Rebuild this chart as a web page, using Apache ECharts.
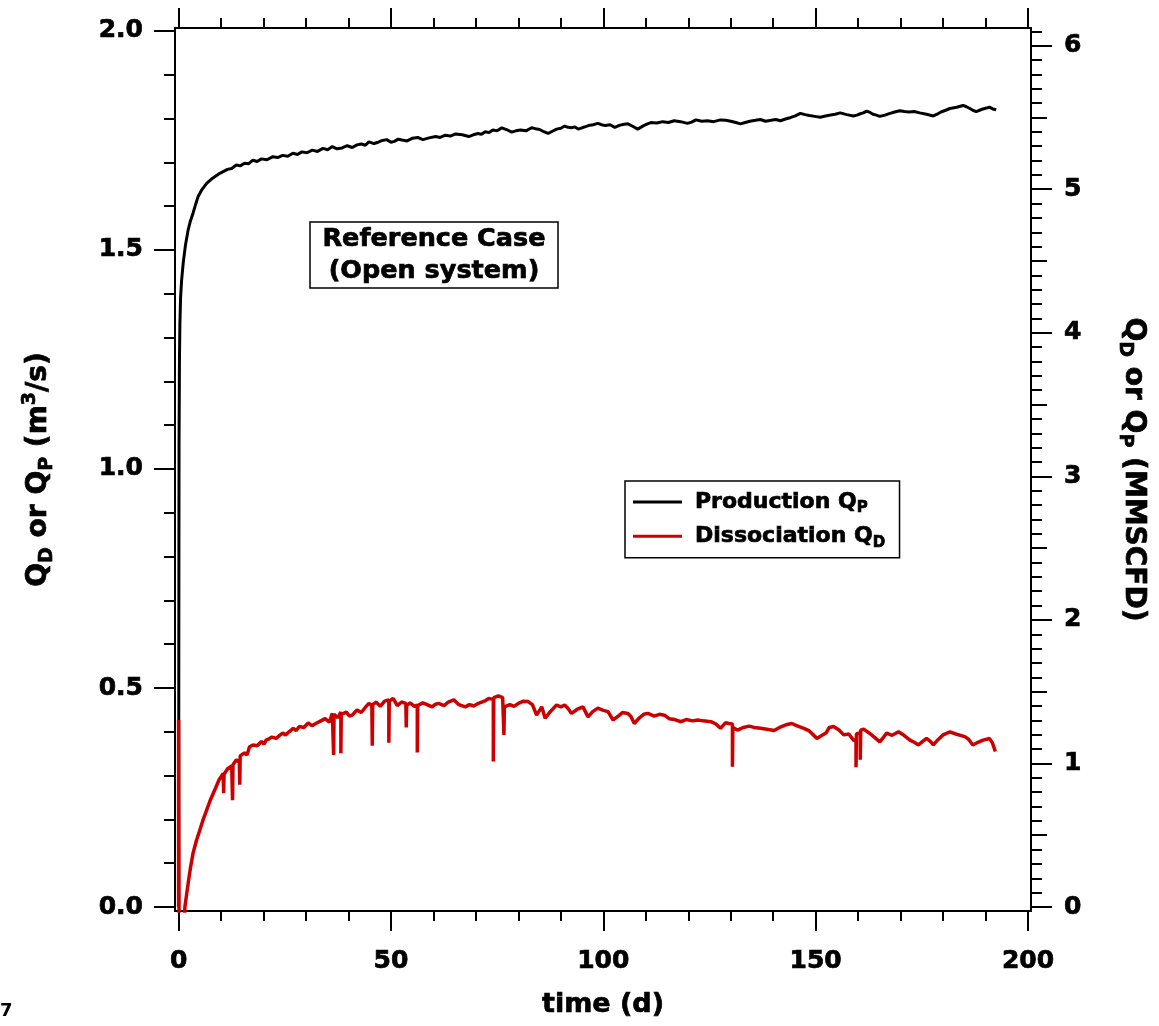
<!DOCTYPE html>
<html>
<head>
<meta charset="utf-8">
<script src="https://cdn.jsdelivr.net/npm/echarts@6/dist/echarts.min.js"></script>
<style>
  html, body { margin: 0; padding: 0; background: #fff; }
  #chart { width: 1159px; height: 1026px; }
</style>
</head>
<body>
<div id="chart"></div>
<script>
// m3/s -> MMSCFD
const CONV = 3.0512

// tick labels
const timeLabels = [0, 50, 100, 150, 200]
const leftLabels = [0, 0.5, 1.0, 1.5, 2.0]
const rightLabels = [0, 1, 2, 3, 4, 5, 6]

// Production Q_P  [time (d), m3/s]
const productionQP = [
  [0, 0], [0.05, 0.6], [0.1, 1.05], [0.2, 1.25], [0.3, 1.33], [0.47, 1.393], [0.7, 1.43], [1.08, 1.47],
  [1.6, 1.51], [2.25, 1.546], [2.8, 1.567], [3.4, 1.584], [4.0, 1.604], [4.6, 1.622], [5.5, 1.638],
  [6.6, 1.652], [8, 1.664], [9.7, 1.675], [10.5, 1.679], [11.5, 1.684], [12.5, 1.686], [13.6, 1.694],
  [14.5, 1.692], [15.5, 1.698], [16.5, 1.697], [17.5, 1.705], [18.5, 1.702], [19.5, 1.708], [20.8, 1.706],
  [22.2, 1.713], [23.3, 1.711], [24.5, 1.716], [25.7, 1.714], [26.9, 1.721], [28, 1.718], [29, 1.724],
  [30.2, 1.722], [31.5, 1.728], [32.7, 1.725], [34, 1.732], [35.1, 1.729], [36.2, 1.736], [37.3, 1.731],
  [38.5, 1.733], [39.7, 1.738], [40.9, 1.734], [42, 1.740], [43, 1.742], [44, 1.739], [44.8, 1.747],
  [46, 1.743], [47, 1.746], [48, 1.750], [49, 1.752], [50, 1.746], [50.8, 1.748], [51.7, 1.753],
  [52.6, 1.751], [53.8, 1.749], [55, 1.755], [56.3, 1.757], [57.5, 1.752], [59, 1.756], [60.5, 1.759],
  [61.6, 1.757], [62.8, 1.762], [64, 1.760], [65.2, 1.765], [66.8, 1.763], [68.3, 1.759], [69.4, 1.763],
  [70.5, 1.766], [71.3, 1.764], [72.2, 1.770], [73.1, 1.768], [74, 1.774], [75, 1.772], [76.1, 1.779],
  [77.2, 1.775], [78.4, 1.769], [79.4, 1.772], [80.5, 1.774], [81.8, 1.772], [83.1, 1.779], [84, 1.777],
  [85, 1.775], [86, 1.770], [87.0, 1.766], [88, 1.771], [89, 1.776], [90, 1.778], [90.9, 1.783],
  [91.7, 1.780], [92.5, 1.779], [93.3, 1.781], [94.1, 1.776], [95.3, 1.780], [96.5, 1.784], [97.6, 1.786],
  [98.7, 1.789], [99.6, 1.786], [100.5, 1.784], [101.6, 1.786], [102.7, 1.780], [103.4, 1.783], [104, 1.785],
  [104.9, 1.787], [105.8, 1.788], [107, 1.782], [108.1, 1.776], [108.8, 1.780], [109.5, 1.784], [110.4, 1.788],
  [111.2, 1.791], [112.6, 1.790], [114, 1.793], [115.3, 1.791], [116.7, 1.795], [118.2, 1.793], [119.8, 1.789],
  [120.8, 1.792], [121.8, 1.797], [123.2, 1.794], [124.5, 1.795], [126, 1.793], [127.6, 1.797], [128.8, 1.796],
  [130, 1.794], [131.2, 1.791], [132.3, 1.788], [133.4, 1.791], [134.5, 1.794], [135.8, 1.796], [137.0, 1.798],
  [138.2, 1.794], [139.5, 1.796], [140.6, 1.798], [141.7, 1.795], [142.9, 1.799], [144, 1.802], [145.2, 1.806],
  [146.4, 1.812], [147.5, 1.809], [148.5, 1.807], [149.8, 1.805], [151.1, 1.803], [152.3, 1.806], [153.5, 1.808],
  [154.6, 1.810], [155.8, 1.813], [157.3, 1.809], [158.9, 1.806], [159.7, 1.808], [160.5, 1.811], [161.2, 1.813],
  [162.0, 1.817], [162.8, 1.814], [163.5, 1.810], [164.3, 1.808], [165.1, 1.805], [166.3, 1.808], [167.5, 1.812],
  [168.6, 1.815], [169.8, 1.818], [170.9, 1.816], [172, 1.815], [173.2, 1.816], [174.5, 1.813], [176.1, 1.810],
  [177.7, 1.806], [178.6, 1.810], [179.5, 1.815], [180.6, 1.819], [181.6, 1.823], [183.2, 1.826], [184.7, 1.830],
  [185.5, 1.827], [186.3, 1.823], [187, 1.819], [187.8, 1.816], [188.6, 1.819], [189.4, 1.822], [190.2, 1.824],
  [190.9, 1.826], [191.7, 1.822], [192.5, 1.820]
]

// Dissociation Q_D  [time (d), m3/s]  (downward spikes included)
const dissociationQD = [
  [0, 0], [0, 0.427], [0.05, 0.427], [0.1, -0.05], [1.3, -0.05], [1.48, 0], [1.9, 0.03], [2.25, 0.054],
  [2.8, 0.09], [3.4, 0.123], [4.2, 0.152], [5.0, 0.176], [5.8, 0.2], [6.6, 0.221], [7.5, 0.245], [8.5, 0.267],
  [9.5, 0.29], [10.5, 0.305], [10.6, 0.26], [10.7, 0.303], [11.5, 0.315], [12.5, 0.322], [12.7, 0.244],
  [12.8, 0.325], [13.6, 0.336], [14.3, 0.33], [14.4, 0.279], [14.5, 0.345], [15.5, 0.352], [16.1, 0.347],
  [16.7, 0.366], [17.5, 0.37], [18.5, 0.368], [19.5, 0.378], [20.1, 0.372], [20.6, 0.381], [21.3, 0.384],
  [22, 0.388], [23, 0.385], [23.8, 0.392], [24.5, 0.397], [25.2, 0.393], [26, 0.4], [27, 0.408],
  [27.7, 0.403], [28.4, 0.412], [29.5, 0.41], [30.5, 0.42], [31.4, 0.414], [32.3, 0.419], [33.5, 0.425],
  [34.5, 0.43], [35.5, 0.422], [36.2, 0.442], [36.5, 0.442], [36.5, 0.347], [36.6, 0.44], [37.5, 0.432],
  [38.2, 0.445], [38.2, 0.351], [38.3, 0.44], [39.5, 0.445], [40.2, 0.436], [40.9, 0.438], [42, 0.45],
  [43, 0.444], [43.9, 0.455], [44.8, 0.465], [45.5, 0.46], [45.6, 0.368], [45.7, 0.462], [46.5, 0.468],
  [47.5, 0.458], [48.5, 0.47], [49.5, 0.473], [49.5, 0.375], [49.6, 0.47], [50.5, 0.476], [51.5, 0.46],
  [52.5, 0.468], [53.5, 0.465], [53.6, 0.41], [53.7, 0.46], [54.5, 0.466], [55.5, 0.458], [56.2, 0.461],
  [56.2, 0.353], [56.3, 0.46], [57.5, 0.466], [58.5, 0.462], [59.7, 0.457], [60.5, 0.463], [61.2, 0.465],
  [62.5, 0.46], [63.5, 0.468], [64.8, 0.473], [66, 0.462], [67.5, 0.457], [68.5, 0.462], [69.5, 0.459],
  [70.6, 0.465], [72, 0.47], [73, 0.476], [74.1, 0.474], [74.1, 0.332], [74.2, 0.478], [75.3, 0.482],
  [76.3, 0.478], [76.6, 0.393], [76.7, 0.457], [78, 0.462], [79, 0.458], [80, 0.465], [81.2, 0.47],
  [82.3, 0.469], [83.3, 0.462], [84.3, 0.438], [85.5, 0.457], [86.3, 0.431], [87.5, 0.446], [89, 0.461],
  [90, 0.457], [90.9, 0.461], [91.8, 0.452], [92.5, 0.442], [93.8, 0.451], [95.2, 0.457], [96.4, 0.434],
  [97.5, 0.446], [98.7, 0.454], [100, 0.449], [101.1, 0.446], [102.3, 0.427], [103.5, 0.436], [104.5, 0.444],
  [105.8, 0.442], [106.5, 0.435], [107.3, 0.419], [108.5, 0.432], [109.5, 0.44], [110.5, 0.442], [112, 0.436],
  [113.2, 0.44], [114.4, 0.438], [115.5, 0.43], [116.8, 0.428], [118.3, 0.423], [119.5, 0.428], [121, 0.425],
  [122.2, 0.427], [123.5, 0.425], [125.3, 0.423], [126.5, 0.418], [127.6, 0.408], [128.8, 0.421], [129.5, 0.419],
  [130.4, 0.418], [130.4, 0.32], [130.5, 0.41], [131.6, 0.404], [133, 0.41], [134.3, 0.413], [135.5, 0.41],
  [137, 0.408], [138.5, 0.406], [140.2, 0.403], [141.5, 0.41], [143, 0.416], [144.4, 0.419], [145.5, 0.414],
  [147.2, 0.408], [148.5, 0.402], [150.3, 0.385], [151.5, 0.392], [152.5, 0.398], [153.2, 0.41], [154.2, 0.412],
  [155.5, 0.404], [156.6, 0.393], [157.8, 0.395], [158.9, 0.381], [159.5, 0.381], [159.5, 0.319], [159.6, 0.395],
  [160.5, 0.398], [160.5, 0.336], [160.6, 0.404], [161.3, 0.406], [162.5, 0.398], [163.8, 0.388], [165.1, 0.377],
  [166, 0.388], [166.7, 0.397], [168, 0.392], [169.5, 0.4], [170.8, 0.392], [172.2, 0.381], [173.2, 0.376],
  [174.2, 0.37], [175.2, 0.378], [176.1, 0.385], [177, 0.378], [177.7, 0.37], [178.8, 0.382], [180, 0.393],
  [181.6, 0.4], [183, 0.395], [185.1, 0.389], [186, 0.383], [187, 0.37], [188.2, 0.376], [189.4, 0.381],
  [190.3, 0.383], [190.9, 0.385], [191.6, 0.375], [192.3, 0.355]
]

// axis ranges (Igor-style frame sits a few px outside the 0 / 2.0 lines)
const xMin = -0.85, xMax = 200.7
const yMin = -0.0091, yMax = 2.0068

// minor tick positions
function steps(from, to, step, skip) {
  const out = []
  for (let i = 0; from + i * step <= to + 1e-9; i++) {
    const v = +(from + i * step).toFixed(3)
    if (!skip.some(s => Math.abs(s - v) < 1e-6)) out.push(v)
  }
  return out
}
const xMinor = steps(0, 200, 10, timeLabels)
const leftMinor = steps(0, 2.0, 0.1, leftLabels)
const rightMid = steps(0.5, 6, 1, [])
const rightMinor = steps(0, 6.1, 0.1, rightLabels.concat(rightMid))

const FONT = 'DejaVu Sans'
// a thin stroke makes the glyphs as heavy as the original Helvetica Bold
const heavy = { textBorderColor: '#000', textBorderWidth: 0.7 }

const chart = echarts.init(document.getElementById('chart'))

function xAx(pos, ticks, len, opts) {
  return Object.assign({
    type: 'value', position: pos, min: xMin, max: xMax,
    axisLine: { show: true, onZero: false, lineStyle: { color: '#000', width: 2 } },
    axisTick: { show: true, customValues: ticks, length: len, lineStyle: { color: '#000', width: 2 } },
    axisLabel: { show: false },
    splitLine: { show: false }
  }, opts || {})
}
function yAx(pos, lo, hi, ticks, len, opts) {
  return Object.assign({
    type: 'value', position: pos, min: lo, max: hi,
    axisLine: { show: true, onZero: false, lineStyle: { color: '#000', width: 2 } },
    axisTick: { show: true, customValues: ticks, length: len, lineStyle: { color: '#000', width: 2 } },
    axisLabel: { show: false },
    splitLine: { show: false }
  }, opts || {})
}

const subRich = {
  s: Object.assign({ fontSize: 19, fontWeight: 'bold', fontFamily: FONT, color: '#000', lineHeight: 20, verticalAlign: 'bottom' }, heavy),
  u: Object.assign({ fontSize: 19, fontWeight: 'bold', fontFamily: FONT, color: '#000', lineHeight: 20, verticalAlign: 'top' }, heavy)
}
const tickFont = Object.assign({ fontSize: 25, fontWeight: 'bold', color: '#000', fontFamily: FONT }, heavy)

const option = {
  backgroundColor: '#fff',
  animation: false,
  textStyle: { fontFamily: FONT },
  grid: { left: 175, top: 28, right: 124, bottom: 115, containLabel: false },
  title: {
    text: 'Reference Case\n(Open system)',
    left: 422, top: 222,
    textAlign: 'center',
    borderColor: '#000', borderWidth: 1.5,
    padding: [1, 12],
    textStyle: Object.assign({ fontSize: 25.5, fontWeight: 'bold', color: '#000', lineHeight: 32, fontFamily: FONT }, heavy)
  },
  legend: {
    orient: 'vertical',
    left: 625, top: 481,
    borderColor: '#000', borderWidth: 1.5,
    padding: [7, 14, 7, 8],
    itemGap: 6,
    itemWidth: 49, itemHeight: 3,
    icon: 'rect',
    formatter: name => name === 'Production' ? 'Production Q{s|P}' : 'Dissociation Q{s|D}',
    textStyle: Object.assign({
      fontSize: 22, fontWeight: 'bold', color: '#000', fontFamily: FONT, lineHeight: 28,
      padding: [0, 0, 0, 8],
      rich: {
        s: Object.assign({ fontSize: 15, fontWeight: 'bold', fontFamily: FONT, color: '#000', lineHeight: 17, verticalAlign: 'bottom' }, heavy)
      }
    }, heavy),
    data: ['Production', 'Dissociation']
  },
  xAxis: [
    xAx('bottom', timeLabels, 20, {
      name: 'time (d)', nameLocation: 'middle', nameGap: 80,
      nameTextStyle: Object.assign({ fontSize: 27, fontWeight: 'bold', color: '#000', fontFamily: FONT }, heavy),
      axisLabel: Object.assign({ show: true, customValues: timeLabels, margin: 38 }, tickFont)
    }),
    xAx('bottom', xMinor, 10),
    xAx('top', timeLabels, 20),
    xAx('top', xMinor, 10)
  ],
  yAxis: [
    yAx('left', yMin, yMax, leftLabels, 21, {
      name: 'Q{s|D} or Q{s|P} (m{u|3}/s)', nameLocation: 'middle', nameGap: 118, nameRotate: 90,
      nameTextStyle: Object.assign({ fontSize: 28, fontWeight: 'bold', color: '#000', fontFamily: FONT, lineHeight: 36, rich: subRich }, heavy),
      axisLabel: Object.assign({ show: true, customValues: leftLabels, margin: 32, formatter: v => v.toFixed(1) }, tickFont)
    }),
    yAx('left', yMin, yMax, leftMinor, 11),
    yAx('right', yMin * CONV, yMax * CONV, rightLabels, 21, {
      name: 'Q{s|D} or Q{s|P} (MMSCFD)', nameLocation: 'middle', nameGap: 84, nameRotate: -90,
      nameTextStyle: Object.assign({ fontSize: 28, fontWeight: 'bold', color: '#000', fontFamily: FONT, lineHeight: 36, rich: subRich }, heavy),
      axisLabel: Object.assign({ show: true, customValues: rightLabels, margin: 33, formatter: v => String(Math.round(v)) }, tickFont)
    }),
    yAx('right', yMin * CONV, yMax * CONV, rightMid, 16),
    yAx('right', yMin * CONV, yMax * CONV, rightMinor, 11)
  ],
  graphic: [
    { type: 'text', left: 0, top: 1002, style: { text: '7', fontSize: 18, fontWeight: 'bold', fontFamily: FONT, fill: '#000' } }
  ],
  series: [
    {
      name: 'Production', type: 'line', xAxisIndex: 0, yAxisIndex: 0,
      data: productionQP, showSymbol: false, symbol: 'none', color: '#000',
      lineStyle: { color: '#000', width: 3 }, z: 2
    },
    {
      name: 'Dissociation', type: 'line', xAxisIndex: 0, yAxisIndex: 0,
      data: dissociationQD, showSymbol: false, symbol: 'none', color: '#cc0000',
      lineStyle: { color: '#cc0000', width: 3.5 }, z: 3
    }
  ]
}

chart.setOption(option)
</script>
</body>
</html>
